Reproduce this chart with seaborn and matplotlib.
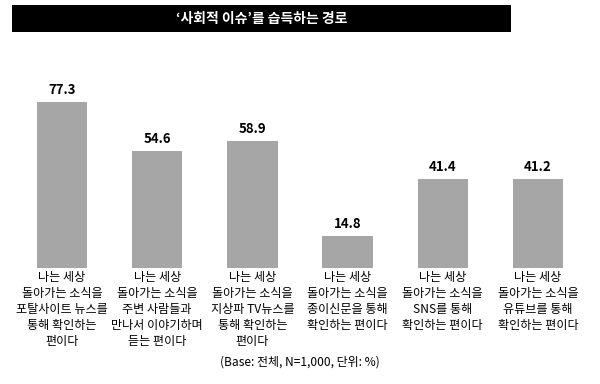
import matplotlib
matplotlib.use("Agg")
import matplotlib.pyplot as plt
import seaborn as sns
import pandas as pd
from matplotlib.patches import Rectangle

categories = [
    "나는 세상\n돌아가는 소식을\n포탈사이트 뉴스를\n통해 확인하는\n편이다",
    "나는 세상\n돌아가는 소식을\n주변 사람들과\n만나서 이야기하며\n듣는 편이다",
    "나는 세상\n돌아가는 소식을\n지상파 TV뉴스를\n통해 확인하는\n편이다",
    "나는 세상\n돌아가는 소식을\n종이신문을 통해\n확인하는 편이다",
    "나는 세상\n돌아가는 소식을\nSNS를 통해\n확인하는 편이다",
    "나는 세상\n돌아가는 소식을\n유튜브를 통해\n확인하는 편이다",
]
values = [77.3, 54.6, 58.9, 14.8, 41.4, 41.2]
title = "‘사회적 이슈’를 습득하는 경로"
footnote = "(Base: 전체, N=1,000, 단위: %)"

sns.set_theme(style="white")
plt.rcParams['font.family'] = ['Noto Sans CJK KR', 'DejaVu Sans']

df = pd.DataFrame({"cat": categories, "val": values})

fig = plt.figure(figsize=(6, 3.84), dpi=100)
ax = fig.add_axes([14.5/600, 1-268/384, (585.5-14.5)/600, 193.5/384])
sns.barplot(data=df, x="cat", y="val", color="#a6a6a6", width=0.53,
            saturation=1, ax=ax, edgecolor="none")
ax.set_xlim(-0.5, 5.5)
ax.set_ylim(0, 90)
ax.set_xlabel("")
ax.set_ylabel("")
ax.set_yticks([])
for s in ax.spines.values():
    s.set_visible(False)
ax.tick_params(axis="x", length=0, pad=2)
for lbl in ax.get_xticklabels():
    lbl.set_fontsize(8.7)
    lbl.set_linespacing(1.3)
    lbl.set_color("black")
    lbl.set_verticalalignment("top")

for i, v in enumerate(values):
    ax.text(i, v + 2.3, f"{v:.1f}", ha="center", va="bottom",
            fontsize=9.5, fontweight="bold", color="black")

# title bar
fig.patches.append(Rectangle((12/600, 1-32/384), (511-12)/600, 27/384,
                             transform=fig.transFigure, facecolor="black",
                             edgecolor="none"))
fig.text(262/600, 1-18.5/384, title, ha="center", va="center",
         color="white", fontsize=10, fontweight="bold")

fig.text(300/600, 1-362/384, footnote, ha="center", va="center",
         fontsize=8.6, color="black")

fig.savefig("out.png", dpi=100, facecolor="white")
